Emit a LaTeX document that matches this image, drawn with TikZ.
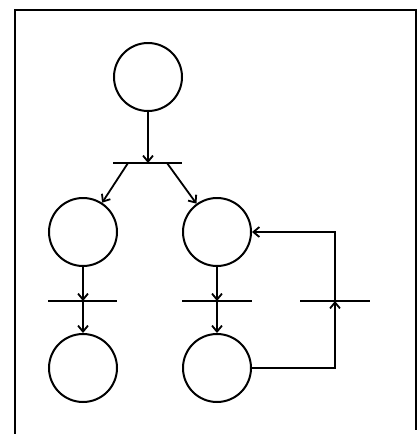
\documentclass[tikz,border=0pt]{standalone}
\usetikzlibrary{arrows.meta}
\begin{document}
\begin{tikzpicture}[x=1pt,y=-1pt,
  place/.style={circle,draw,line width=2pt,minimum size=68pt,inner sep=0pt},
  bar/.style={line width=1.6pt},
  arc/.style={line width=1.8pt,-{Straight Barb[length=6pt,width=10pt]}}]
\useasboundingbox (0,0) rectangle (419,434);
\draw[line width=2pt] (15,434) -- (15,10) -- (416,10) -- (416,430);
\node[place] (p1) at (148,77) {};
\node[place] (p2) at (83,232) {};
\node[place] (p3) at (217,232) {};
\node[place] (p4) at (83,368) {};
\node[place] (p5) at (217,368) {};
% transitions
\coordinate (t1) at (148,163);
\coordinate (t2) at (83,301);
\coordinate (t3) at (217,301);
\coordinate (t4) at (335,301);
\draw[bar] (113,163) -- (182,163);
\draw[bar] (48,301) -- (117,301);
\draw[bar] (182,301) -- (252,301);
\draw[bar] (300,301) -- (370,301);
% arcs
\draw[arc] (p1) -- (t1);
\coordinate (t1l) at (128,163);
\coordinate (t1r) at (167,163);
\draw[arc] (t1l) -- (p2);
\draw[arc] (t1r) -- (p3);
\draw[arc] (p2) -- (t2);
\draw[arc] (t2) -- (p4);
\draw[arc] (p3) -- (t3);
\draw[arc] (t3) -- (p5);
\coordinate (c1) at (335,368);
\coordinate (c2) at (335,232);
\draw[arc] (p5.east) -- (c1) -- (t4);
\draw[arc] (t4) -- (c2) -- (p3.east);
\end{tikzpicture}
\end{document}
